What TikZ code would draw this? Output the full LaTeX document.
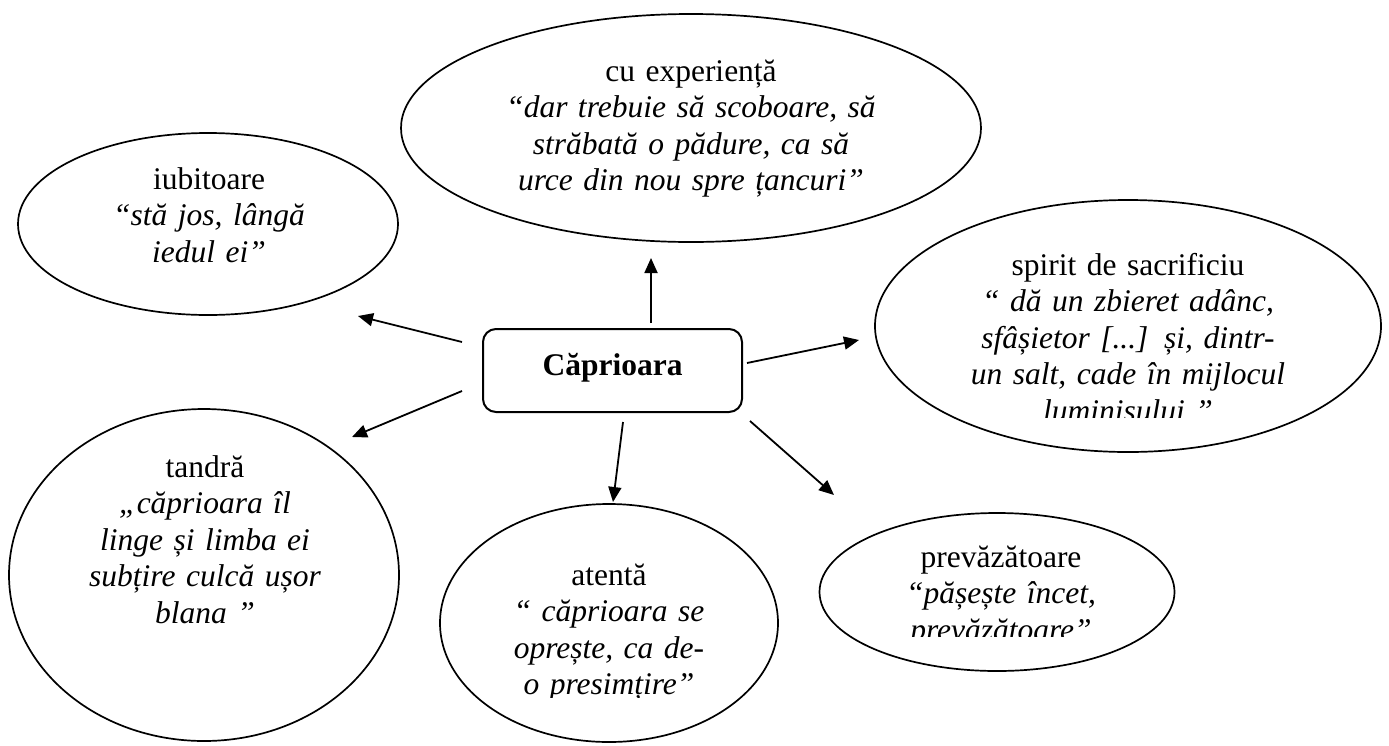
\documentclass[tikz,border=0pt]{standalone}
\usepackage{fontspec}
\setmainfont{Liberation Serif}
\usetikzlibrary{shapes.geometric,arrows.meta}
\begin{document}
\begin{tikzpicture}[x=1pt,y=-1pt,
  ell/.style={draw, ellipse, line width=1.7pt, inner sep=0pt},
  txt/.style={text width=440pt, align=center, inner sep=0pt, anchor=base,
    font=\fontsize{31.5}{36.5}\selectfont},
  arr/.style={line width=1.8pt, -{Triangle[length=15pt,width=13pt]}},
  mainbox/.style={draw, rounded corners=13pt, line width=2pt,
    minimum width=259pt, minimum height=83pt, inner sep=0pt,
    text height=20pt, text depth=11pt,
    font=\fontsize{31.5}{36.5}\selectfont\bfseries}]
\useasboundingbox (0,0) rectangle (1389,745);

% central box
\node[mainbox] (box) at (612.5,370.5) {Căprioara};

% ellipses
\node[ell, minimum width=580pt, minimum height=228pt] (exp) at (691,128) {};
\node[ell, minimum width=380pt, minimum height=182pt] (iub) at (208,224) {};
\node[ell, minimum width=506pt, minimum height=252pt] (spi) at (1128,326) {};
\node[ell, minimum width=390pt, minimum height=332pt] (tan) at (204,575) {};
\node[ell, minimum width=338pt, minimum height=238pt] (ate) at (609,623) {};
\node[ell, minimum width=355pt, minimum height=158pt] (pre) at (997,592) {};

% texts
\node[txt] (exp-t) at (691,81) {cu experiență\\ {\itshape “dar trebuie să scoboare, să\\ străbată o pădure, ca să\\ urce din nou spre țancuri”}};
\node[txt] (iub-t) at (209,189) {iubitoare\\ {\itshape “stă jos, lângă\\ iedul ei”}};
\node[txt] (tan-t) at (205,477) {tandră\\ {\itshape „căprioara îl\\ linge și limba ei\\ subțire culcă ușor\\ blana ”}};
\begin{scope}
  \clip (880,230) rectangle (1380,417);
  \node[txt] (spi-t) at (1128,275) {spirit de sacrificiu\\ {\itshape “ dă un zbieret adânc,\\ sfâșietor [...] și, dintr-\\ un salt, cade în mijlocul\\ luminisului ”}};
\end{scope}
\begin{scope}
  \clip (445,540) rectangle (775,697);
  \node[txt] (ate-t) at (609,585) {atentă\\ {\itshape “ căprioara se\\ oprește, ca de-\\ o presimțire”}};
\end{scope}
\begin{scope}
  \clip (820,520) rectangle (1170,636);
  \node[txt] (pre-t) at (1001,567) {prevăzătoare\\ {\itshape “pășește încet,\\ prevăzătoare”}};
\end{scope}

% arrow end points
\coordinate (up-s) at (651,323);  \coordinate (up-e) at (651,258);
\coordinate (lu-s) at (462,342);  \coordinate (lu-e) at (358,316);
\coordinate (r-s)  at (747,363);  \coordinate (r-e)  at (859,340);
\coordinate (ld-s) at (462,391);  \coordinate (ld-e) at (352,437);
\coordinate (d-s)  at (623,422);  \coordinate (d-e)  at (613,502);
\coordinate (rd-s) at (750,421);  \coordinate (rd-e) at (834,495);

\draw[arr] (up-s) -- (up-e);
\draw[arr] (lu-s) -- (lu-e);
\draw[arr] (r-s) -- (r-e);
\draw[arr] (ld-s) -- (ld-e);
\draw[arr] (d-s) -- (d-e);
\draw[arr] (rd-s) -- (rd-e);
\end{tikzpicture}
\end{document}
